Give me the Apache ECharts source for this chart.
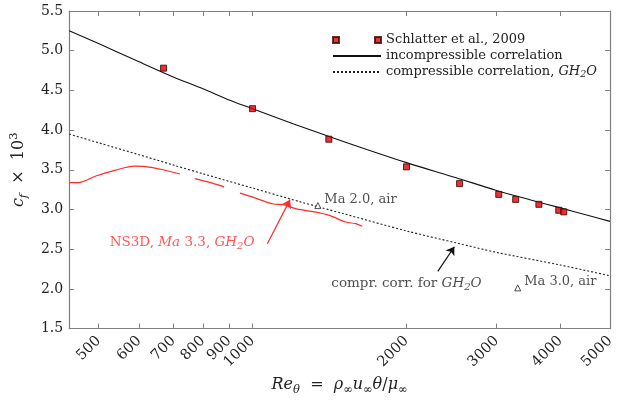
<!DOCTYPE html>
<html>
<head>
<meta charset="utf-8">
<script src="https://cdn.jsdelivr.net/npm/echarts@6/dist/echarts.min.js"></script>
<style>
  html, body { margin: 0; padding: 0; background: #fff; }
  #chart { width: 623px; height: 401px; }
</style>
</head>
<body>
<div id="chart"></div>
<script>
// axis ticks
const xTicks = [500, 600, 700, 800, 900, 1000, 2000, 3000, 4000, 5000]

// Schlatter et al., 2009 (DNS)
const schlatterRe = [670, 1000, 1410, 2000, 2540, 3030, 3270, 3630, 3970, 4060]
const schlatterCf = [4.78, 4.27, 3.885, 3.537, 3.326, 3.19, 3.127, 3.065, 2.99, 2.97]

// incompressible correlation
const incRe = [438, 500, 600, 700, 800, 900, 1000, 1200, 1500, 2000, 2500, 3000, 3500, 4000, 4500, 5000]
const incCf = [5.25, 5.09, 4.86, 4.67, 4.52, 4.38, 4.27, 4.08, 3.86, 3.59, 3.4, 3.24, 3.12, 3.02, 2.93, 2.85]

// compressible correlation, GH2O
const compRe = [438, 500, 600, 700, 800, 1000, 1250, 1500, 2000, 2500, 3000, 4000, 5000]
const compCf = [3.95, 3.84, 3.69, 3.56, 3.45, 3.27, 3.09, 2.95, 2.73, 2.58, 2.46, 2.3, 2.165]

// NS3D, Ma 3.3 (null = gap in the curve)
const ns3dRe = [438, 456, 494, 540, 587, 618, 665, 721, null, 771, 818, 880, null,
  945, 991, 1099, 1149, 1219, 1332, 1413, 1522, 1591, 1639]
const ns3dCf = [3.339, 3.339, 3.422, 3.496, 3.546, 3.541, 3.504, 3.447, null, 3.388, 3.347, 3.285, null,
  3.206, 3.165, 3.069, 3.061, 3.007, 2.966, 2.925, 2.842, 2.821, 2.789]

// Ma 2.0 / Ma 3.0 air points
const airRe = [1342, 3300]
const airCf = [3.049, 2.013]
const airNames = ['Ma 2.0, air', 'Ma 3.0, air']

// arrows [tail, tip]
const ns3dArrow = [[1069, 2.568], [1184, 3.124]]
const compArrow = [[2303, 2.22], [2481, 2.531]]

// text anchors
const ns3dNote = [1018, 2.584]
const compNote = [2000, 2.071]

const FONT = 'DejaVu Serif'
const frameColor = '#808080'
const textColor = '#222'
const red = '#ff2a2a'

const nameRich = {
  n: { fontFamily: FONT, fontSize: 16, color: textColor, lineHeight: 22 },
  i: { fontFamily: FONT, fontSize: 16, fontStyle: 'italic', color: textColor, lineHeight: 22 },
  s: { fontFamily: FONT, fontSize: 11.5, color: textColor, verticalAlign: 'bottom', lineHeight: 20 },
  si: { fontFamily: FONT, fontSize: 11.5, fontStyle: 'italic', color: textColor, verticalAlign: 'bottom', lineHeight: 20 },
  p: { fontFamily: FONT, fontSize: 11.5, color: textColor, verticalAlign: 'top', lineHeight: 22 },
}

const noteRich = {
  n: { fontFamily: FONT, fontSize: 13.5, color: textColor, lineHeight: 18 },
  i: { fontFamily: FONT, fontSize: 13.5, fontStyle: 'italic', color: textColor, lineHeight: 18 },
  s: { fontFamily: FONT, fontSize: 10, fontStyle: 'italic', color: textColor, verticalAlign: 'bottom', lineHeight: 16 },
}

const redRich = {
  n: { fontFamily: FONT, fontSize: 13.5, color: red, lineHeight: 18 },
  i: { fontFamily: FONT, fontSize: 13.5, fontStyle: 'italic', color: red, lineHeight: 18 },
  s: { fontFamily: FONT, fontSize: 10, fontStyle: 'italic', color: red, verticalAlign: 'bottom', lineHeight: 16 },
}

const zip = (xs, ys) => xs.map((x, i) => (x == null ? '-' : [x, ys[i]]))

const chart = echarts.init(document.getElementById('chart'))

const logAxis = (pos, showLabel) => ({
  type: 'log',
  position: pos,
  min: 438,
  max: 5000,
  logBase: 10,
  axisLine: { show: true, onZero: false, lineStyle: { color: frameColor, width: 1.2 } },
  axisTick: { show: true, inside: true, length: 5, customValues: xTicks, lineStyle: { color: frameColor } },
  axisLabel: {
    show: showLabel,
    customValues: xTicks,
    rotate: 45,
    margin: 10,
    fontFamily: FONT,
    fontSize: 14.5,
    color: textColor,
    formatter: (v) => String(v),
  },
  minorTick: { show: false },
  splitLine: { show: false },
})

const valAxis = (pos, showLabel) => ({
  type: 'value',
  position: pos,
  min: 1.5,
  max: 5.5,
  interval: 0.5,
  axisLine: { show: true, onZero: false, lineStyle: { color: frameColor, width: 1.2 } },
  axisTick: { show: true, inside: true, length: 5, lineStyle: { color: frameColor } },
  axisLabel: {
    show: showLabel,
    margin: 6,
    fontFamily: FONT,
    fontSize: 14,
    color: textColor,
    formatter: (v) => v.toFixed(1),
  },
  splitLine: { show: false },
})

const xBottom = logAxis('bottom', true)
xBottom.name = '{i|Re}{si|θ}{n|  =  }{i|ρ}{s|∞}{i|u}{s|∞}{i|θ}{n|/}{i|μ}{s|∞}'
xBottom.nameLocation = 'middle'
xBottom.nameGap = 45
xBottom.nameTextStyle = { rich: nameRich }

const yLeft = valAxis('left', true)
yLeft.name = '{i|c}{si|f}{n|  ×  10}{p|3}'
yLeft.nameLocation = 'middle'
yLeft.nameRotate = 90
yLeft.nameGap = 33
yLeft.nameTextStyle = { rich: nameRich }

const hideDot = { opacity: 0 }

chart.setOption({
  animation: false,
  backgroundColor: '#fff',
  grid: { left: 61, right: 13, top: 11, bottom: 68 },
  xAxis: [xBottom, logAxis('top', false)],
  yAxis: [yLeft, valAxis('right', false)],
  legend: {
    orient: 'vertical',
    left: 327,
    top: 27,
    itemWidth: 48,
    itemHeight: 6,
    itemGap: 0,
    textStyle: {
      fontFamily: FONT,
      fontSize: 13,
      color: textColor,
      lineHeight: 16,
      rich: {
        n: { fontFamily: FONT, fontSize: 13, color: textColor, lineHeight: 16 },
        i: { fontFamily: FONT, fontSize: 13, fontStyle: 'italic', color: textColor, lineHeight: 16 },
        s: { fontFamily: FONT, fontSize: 9.5, fontStyle: 'italic', color: textColor, verticalAlign: 'bottom', lineHeight: 14 },
      },
    },
    formatter: (name) =>
      name === 'compressible correlation, GH2O'
        ? '{n|compressible correlation, }{i|GH}{s|2}{i|O}'
        : '{n|' + name + '}',
    data: [
      { name: 'Schlatter et al., 2009', icon: 'path://M0,0h6v6h-6zM42,0h6v6h-6z' },
      { name: 'incompressible correlation', itemStyle: hideDot },
      { name: 'compressible correlation, GH2O', itemStyle: hideDot },
    ],
  },
  series: [
    {
      name: 'incompressible correlation',
      type: 'line',
      data: zip(incRe, incCf),
      smooth: 0.3,
      symbol: 'none',
      lineStyle: { color: '#111', width: 1.1 },
      itemStyle: { color: '#111' },
      z: 3,
    },
    {
      name: 'compressible correlation, GH2O',
      type: 'line',
      data: zip(compRe, compCf),
      smooth: 0.3,
      symbol: 'none',
      lineStyle: { color: '#222', width: 1.1, type: [2, 2] },
      itemStyle: { color: '#222' },
      z: 3,
    },
    {
      name: 'NS3D',
      type: 'line',
      data: zip(ns3dRe, ns3dCf),
      smooth: 0.3,
      connectNulls: false,
      symbol: 'none',
      lineStyle: { color: red, width: 1.2 },
      z: 2,
    },
    {
      name: 'Schlatter et al., 2009',
      type: 'scatter',
      data: zip(schlatterRe, schlatterCf),
      symbol: 'rect',
      symbolSize: 6,
      itemStyle: { color: '#e00000', borderColor: '#3a0000', borderWidth: 1 },
      z: 5,
    },
    {
      name: 'air',
      type: 'scatter',
      data: airRe.map((r, i) => ({ value: [r, airCf[i]], name: airNames[i] })),
      symbol: 'triangle',
      symbolSize: 6,
      itemStyle: { color: '#fff', borderColor: '#222', borderWidth: 1 },
      label: {
        show: true,
        position: 'right',
        distance: 3,
        offset: [0, -6],
        formatter: (p) => p.name,
        fontFamily: FONT,
        fontSize: 13,
        color: textColor,
      },
      z: 5,
    },
    {
      name: 'arrows',
      type: 'lines',
      coordinateSystem: 'cartesian2d',
      symbol: ['none', 'arrow'],
      symbolSize: 8,
      data: [
        { coords: ns3dArrow, lineStyle: { color: red, width: 1.2, opacity: 1 } },
        { coords: compArrow, lineStyle: { color: '#111', width: 1.2, opacity: 1 } },
      ],
      z: 6,
    },
    {
      name: 'notes',
      type: 'scatter',
      symbolSize: 0,
      data: [
        {
          value: ns3dNote,
          label: {
            show: true,
            position: 'left',
            distance: 2,
            formatter: '{n|NS3D, }{i|Ma}{n| 3.3, }{i|GH}{s|2}{i|O}',
            rich: redRich,
          },
        },
        {
          value: compNote,
          label: {
            show: true,
            position: 'inside',
            formatter: '{n|compr. corr. for }{i|GH}{s|2}{i|O}',
            rich: noteRich,
          },
        },
      ],
      z: 6,
    },
  ],
})
</script>
</body>
</html>
